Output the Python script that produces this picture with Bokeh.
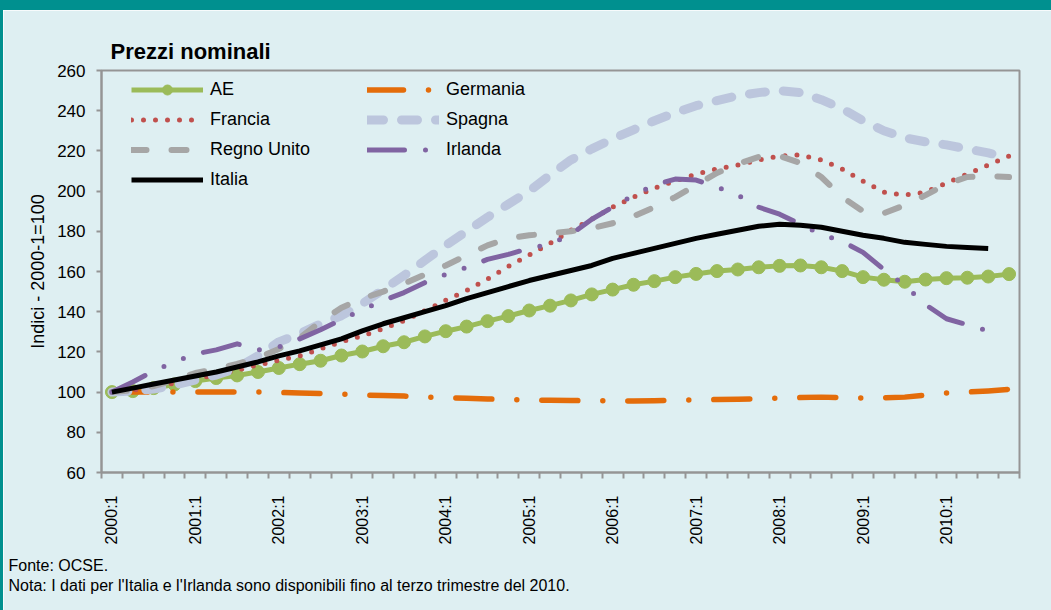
import math
from bokeh.plotting import figure
from bokeh.models import Range1d, FixedTicker, Legend, LegendItem, Title, Div
from bokeh.layouts import column, row
from bokeh.embed import file_html
from bokeh.resources import INLINE

# ---------------- data ----------------
years = list(range(2000, 2011))
quarters = [f"{y}:{q}" for y in years for q in (1, 2, 3, 4)]

ae = [100, 100.5, 102, 103.8, 105.5, 107, 108.3, 110, 112, 113.9, 115.6, 118.2,
      120.2, 122.8, 124.8, 127.7, 130.3, 132.6, 135.3, 137.8, 140.6, 143, 145.6,
      148.6, 151, 153.4, 155.2, 157.2, 158.8, 160.2, 161, 162.1, 162.8, 163,
      162.1, 160.2, 157.2, 155.9, 154.9, 156, 156.7, 156.9, 157.5, 158.7]
germania = [100, 100, 100, 100, 100, 100, 100, 100, 99.8, 99.6, 99.3, 99, 98.6,
            98.3, 98, 97.6, 97.2, 96.9, 96.6, 96.3, 96.1, 95.9, 95.8, 95.7, 95.6,
            95.6, 95.7, 95.9, 96.1, 96.3, 96.5, 96.7, 97, 97.3, 97.5, 97.3, 97,
            97.2, 97.5, 98.5, 99.5, 100, 100.6, 101.4]
francia = [100, 101, 102.5, 104.5, 106.5, 108.5, 111, 113.5, 115.8, 118, 121.5,
           125, 128, 131.5, 135.5, 140.5, 145.7, 150.5, 156.2, 162.5, 168.2, 174,
           180.5, 186, 192, 197, 201.5, 205, 208.5, 211, 213, 215.5, 217.5, 218,
           215.5, 211, 205, 199.5, 198, 199.5, 204, 208.5, 213, 217.5]
spagna = [100, 100.5, 101.5, 103.5, 106, 108.5, 112, 118, 125, 129, 134, 138,
          144, 151, 158, 165.5, 173, 180, 187, 193.5, 200, 208, 215.5, 221, 226,
          230.5, 235, 239, 242.5, 245, 247.5, 249, 250, 249, 245.5, 241, 235,
          230, 226.5, 224.5, 223, 221, 219, 216.5]
regno_unito = [100, 101, 103, 106, 109.5, 111.5, 114, 117, 121.5, 127, 135, 142,
               146.5, 150, 154, 158.5, 163, 168, 173, 176.5, 178, 179, 180, 181.5,
               184, 187.5, 192, 197, 203, 209, 213.5, 217, 217.5, 214, 207, 197,
               190, 189, 193, 198, 203.5, 207, 207.5, 207]
irlanda = [100, 105, 110.5, 115, 119, 121, 124, 121, 122.5, 126.5, 131, 136, 141,
           145.5, 149.5, 154.5, 158.5, 162, 166, 168.5, 171.5, 173.5, 178.5, 186,
           192, 198, 203, 206, 205.5, 202, 198, 192, 188.5, 183.5, 178.5, 175,
           169.5, 161, 153, 143.5, 136.5, 133.5, 130.5]
italia = [100, 102, 104, 106, 108, 110, 112.5, 115, 118, 120.5, 123.5, 126.5,
          130.5, 134, 137, 140, 143, 146.5, 149.5, 152.5, 155.5, 158, 160.5, 163,
          166.5, 169, 171.5, 174, 176.5, 178.5, 180.5, 182.5, 183.5, 183, 182,
          180, 178, 176.5, 174.5, 173.5, 172.5, 172, 171.5]

y_ticks = [60, 80, 100, 120, 140, 160, 180, 200, 220, 240, 260]

title_text = "Prezzi nominali"
y_label = "Indici - 2000-1=100"
note_source = "Fonte: OCSE."
note_text = "Nota: I dati per l'Italia e l'Irlanda sono disponibili fino al terzo trimestre del 2010."

# ---------------- style ----------------
BG = "#DEEFF2"
TEAL = "#00908F"
GREY = "#959595"
FONT = "Liberation Sans"

xs = list(range(len(quarters)))

p = figure(width=1048, height=600, output_backend="svg", toolbar_location=None,
           x_range=Range1d(-0.5, len(quarters) - 0.5), y_range=Range1d(60, 260),
           min_border_left=98, min_border_right=32, min_border_top=60,
           min_border_bottom=138,
           background_fill_color=BG, border_fill_color=BG,
           outline_line_color=GREY, outline_line_width=2, margin=0)
p.grid.visible = False

p.title.text = title_text
p.title.align = "left"
p.title.offset = 9
p.title.standoff = 14
p.title.text_font = FONT
p.title.text_font_size = "22px"
p.title.text_font_style = "bold"
p.title.text_color = "black"

# x axis: labels at Q1 centres, ticks at quarter boundaries
xa = p.xaxis[0]
q1 = [i for i, q in enumerate(quarters) if q.endswith(":1")]
xa.ticker = FixedTicker(ticks=q1, minor_ticks=[i - 0.5 for i in range(len(quarters) + 1)])
xa.major_label_overrides = {i: quarters[i] for i in q1}
xa.major_label_orientation = math.pi / 2
xa.major_tick_out = 0
xa.major_tick_in = 0
xa.minor_tick_out = 6
xa.minor_tick_in = 0
xa.minor_tick_line_color = GREY
xa.minor_tick_line_width = 2
xa.axis_line_color = GREY
xa.axis_line_width = 2
xa.major_label_text_font = FONT
xa.major_label_text_font_size = "16px"
xa.major_label_text_color = "black"
xa.major_label_standoff = 17

ya = p.yaxis[0]
ya.ticker = FixedTicker(ticks=y_ticks)
ya.major_tick_out = 5
ya.major_tick_in = 0
ya.minor_tick_out = 0
ya.minor_tick_in = 0
ya.major_tick_line_color = GREY
ya.major_tick_line_width = 2
ya.axis_line_color = GREY
ya.axis_line_width = 2
ya.major_label_text_font = FONT
ya.major_label_text_font_size = "17px"
ya.major_label_text_color = "black"
ya.major_label_standoff = 11
ya.axis_label = y_label
ya.axis_label_text_font = FONT
ya.axis_label_text_font_size = "18px"
ya.axis_label_text_font_style = "normal"
ya.axis_label_text_color = "black"
ya.axis_label_standoff = 6

# ---------------- series ----------------
r_ae = p.line(xs, ae, line_color="#9BBB59", line_width=5)
r_ae_m = p.scatter(xs, ae, size=13, fill_color="#9BBB59", line_color="#9BBB59")
r_ge = p.line(xs, germania, line_color="#E46C0A", line_width=5.5,
              line_dash="36 25 0 25", line_cap="round", line_join="round")
r_fr = p.line(xs, francia, line_color="#C0504D", line_width=5,
              line_dash="0 12", line_cap="round", line_join="round")
r_sp = p.line(xs, spagna, line_color="#BCC6DD", line_width=9,
              line_dash="16 18", line_cap="round", line_join="round")
r_uk = p.line(xs, regno_unito, line_color="#A6A6A6", line_width=6,
              line_dash="15 25", line_cap="round", line_join="round")
r_ir = p.line(xs[:len(irlanda)], irlanda, line_color="#8064A2", line_width=5,
              line_dash="37 21 0 21 0 21", line_cap="round", line_join="round")
r_it = p.line(xs[:len(italia)], italia, line_color="black", line_width=5,
              line_join="round")

common = dict(border_line_color=None, background_fill_alpha=0,
              label_text_font=FONT, label_text_font_size="18px",
              label_text_color="black", glyph_width=72, glyph_height=25,
              label_height=25, label_standoff=7, spacing=5, padding=0, margin=0)
leg1 = Legend(items=[LegendItem(label="AE", renderers=[r_ae, r_ae_m]),
                     LegendItem(label="Francia", renderers=[r_fr]),
                     LegendItem(label="Regno Unito", renderers=[r_uk]),
                     LegendItem(label="Italia", renderers=[r_it])],
              location=(30, 280), **common)
leg2 = Legend(items=[LegendItem(label="Germania", renderers=[r_ge]),
                     LegendItem(label="Spagna", renderers=[r_sp]),
                     LegendItem(label="Irlanda", renderers=[r_ir])],
              location=(266, 310), **common)
p.add_layout(leg1)
p.add_layout(leg2)

# ---------------- notes below the chart ----------------
p.add_layout(Title(text=note_source, align="left", offset=-93, standoff=14,
                   text_font=FONT, text_font_size="16px", text_font_style="normal",
                   text_color="black"), "below")
p.add_layout(Title(text=note_text, align="left", offset=-93, standoff=-11,
                   text_font=FONT, text_font_size="16px", text_font_style="normal",
                   text_color="black"), "below")

# ---------------- frame decoration (teal band) ----------------
top_band = Div(width=1051, height=10, margin=0, styles={"background-color": TEAL})
left_band = Div(width=3, height=600, margin=0, styles={"background-color": TEAL})
layout = column(top_band, row(left_band, p, spacing=0, margin=0), spacing=0, margin=0)

open("out.html", "w").write(file_html(layout, INLINE))
